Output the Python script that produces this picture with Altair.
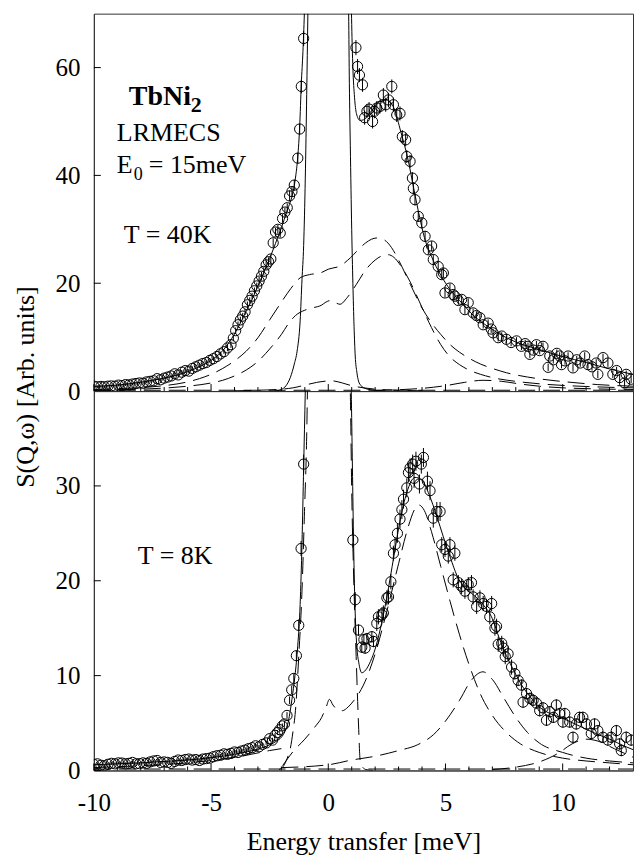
import altair as alt
import pandas as pd

FONT = "Liberation Serif"
XDOM = [-10, 13]

# ------------------------------------------------------------------ T = 40 K
E40 = [-10.0, -9.85, -9.7, -9.55, -9.4, -9.25, -9.1, -8.95, -8.8, -8.65,
       -8.5, -8.35, -8.2, -8.05, -7.9, -7.75, -7.6, -7.45, -7.3, -7.15,
       -7.0, -6.85, -6.7, -6.55, -6.4, -6.25, -6.1, -5.95, -5.8, -5.65,
       -5.5, -5.35, -5.2, -5.05, -4.9, -4.75, -4.6, -4.45, -4.3, -4.15,
       -4.05, -3.95, -3.85, -3.75, -3.65, -3.55, -3.45, -3.35, -3.25, -3.15,
       -3.05, -2.95, -2.85, -2.75, -2.65, -2.55, -2.45, -2.35, -2.25, -2.15,
       -2.05, -1.95, -1.85, -1.75, -1.65, -1.55, -1.45, -1.3, -1.22, -1.15,
       -1.05,
       1.18, 1.25, 1.33, 1.46, 1.55, 1.65, 1.74, 1.89, 1.97, 2.07,
       2.21, 2.35, 2.45, 2.57, 2.71, 2.78, 2.92, 3.06, 3.16, 3.30,
       3.35, 3.49, 3.59, 3.63, 3.70, 3.84, 3.99, 4.13, 4.27, 4.41,
       4.48, 4.69, 4.84, 4.91, 4.98, 5.19, 5.33, 5.40, 5.55, 5.69,
       5.83, 5.97, 6.18, 6.32, 6.47, 6.61, 6.82, 6.95, 7.03, 7.25,
       7.40, 7.60, 7.80, 8.03, 8.24, 8.40, 8.52, 8.60, 8.75, 8.88,
       9.02, 9.16, 9.38, 9.45, 9.60, 9.75, 9.87, 9.95, 10.10, 10.23,
       10.44, 10.60, 10.75, 10.94, 11.08, 11.25, 11.43, 11.50, 11.72, 11.93,
       12.14, 12.30, 12.43, 12.64, 12.71, 12.92]
S40 = [0.9, 0.8, 0.85, 0.8, 0.9, 0.95, 0.9, 1.1, 1.0, 1.2,
       1.15, 1.3, 1.4, 1.5, 1.45, 1.7, 1.8, 1.9, 2.3, 2.1,
       2.4, 2.6, 2.8, 3.2, 3.0, 3.5, 3.8, 3.7, 4.2, 4.5,
       4.8, 5.1, 5.3, 5.7, 6.0, 6.4, 6.9, 7.3, 8.0, 8.6,
       9.8, 11.2, 12.3, 13.2, 13.9, 14.7, 16.0, 16.8, 17.6, 18.6,
       19.5, 20.4, 21.3, 22.2, 23.4, 24.0, 24.5, 27.5, 29.5, 30.0,
       29.3, 32.0, 33.2, 34.0, 36.2, 37.0, 38.2, 43.2, 48.6, 56.5,
       65.4,
       63.7, 60.2, 58.6, 56.8, 50.7, 51.9, 52.3, 50.0, 51.9, 52.5,
       52.8, 54.9, 53.1, 54.0, 56.5, 53.1, 51.2, 51.5, 47.2, 46.6,
       43.5, 42.6, 39.5, 37.6, 35.5, 32.4, 31.2, 28.7, 26.2, 26.9,
       24.4, 23.1, 21.6, 21.9, 18.2, 19.1, 17.9, 17.6, 16.8, 17.0,
       15.1, 16.4, 14.5, 14.0, 13.6, 12.3, 12.6, 11.5, 10.8, 9.9,
       10.2, 9.6, 9.0, 9.3, 8.3, 8.8, 8.3, 6.8, 7.6, 8.6,
       7.5, 8.3, 4.4, 6.5, 5.8, 7.0, 6.5, 4.9, 5.6, 6.5,
       4.3, 5.8, 5.2, 6.5, 4.9, 4.5, 5.2, 3.1, 6.2, 5.2,
       3.1, 3.8, 2.5, 1.5, 3.1, 2.2]
ERR40 = [0.25] * 20 + [0.25, 0.25, 0.25, 0.4, 0.4, 0.4, 0.4, 0.4, 0.4, 0.4,
         0.4, 0.4, 0.4, 0.4, 0.4, 0.4, 0.4, 0.4, 0.6, 0.6,
         0.6, 0.6, 0.6, 0.6, 0.6, 0.6, 0.6, 0.6, 0.6, 0.6,
         0.6, 0.8, 0.8, 0.8, 0.8, 0.8, 0.8, 0.8, 0.8, 0.8,
         0.8, 0.8, 0.8, 0.8, 1.0, 1.0, 1.0, 1.0, 1.0, 1.3,
         1.4,
         1.4, 1.4, 1.3, 1.3, 1.3, 1.3, 1.3, 1.3, 1.3, 1.3,
         1.3, 1.3, 1.3, 1.3, 1.3, 1.3, 1.3, 1.3, 1.2, 1.2,
         1.2, 1.2, 1.1, 1.1, 1.1, 1.0, 1.0, 1.0, 0.9, 0.9,
         0.9, 0.9, 0.9, 0.9, 0.8, 0.8, 0.8, 0.8, 0.8, 0.8,
         0.8, 0.8, 0.8, 0.8, 0.7, 0.7, 0.7, 0.7, 0.7, 0.7] + [0.7] * 36

# total fit (solid), two branches around the elastic line
F40L_E = [-10, -9.5, -9, -8.5, -8, -7.5, -7, -6.5, -6, -5.5, -5, -4.5, -4.25, -4, -3.75,
          -3.5, -3.25, -3, -2.75, -2.5, -2.25, -2, -1.75, -1.5, -1.4, -1.3, -1.22, -1.15,
          -1.08, -1.02, -0.97]
F40L_S = [0.85, 0.95, 1.1, 1.35, 1.65, 2.0, 2.4, 2.9, 3.6, 4.5, 5.7, 7.5, 8.9, 10.6, 12.6,
          14.8, 17.0, 19.5, 22.0, 24.6, 27.4, 30.3, 33.5, 37.0, 39.5, 43.5, 49, 57,
          63, 70, 78]
F40R_E = [0.96, 1.0, 1.05, 1.12, 1.2, 1.35, 1.5, 1.7, 2.0, 2.3, 2.5, 2.8, 3.1, 3.4, 3.65,
          3.9, 4.1, 4.4, 4.8, 5.2, 5.6, 6.2, 6.8, 7.6, 8.0, 9.0, 10.0, 11.0, 12.0, 13.0]
F40R_S = [78, 68, 60, 54.5, 51.5, 50.2, 50.3, 51.2, 52.8, 54.0, 54.0, 52.5, 48.0, 43.0, 37.5,
          32.2, 28.5, 25.0, 21.5, 18.8, 16.8, 14.0, 12.0, 9.9, 9.1, 7.7, 6.4, 5.3, 4.1, 3.1]
# elastic line (solid)
EL40L_E = [-2.3, -2.0, -1.8, -1.62, -1.45, -1.33, -1.2, -1.12, -1.05, -0.98, -0.92, -0.87, -0.84]
EL40L_S = [0.0, 0.3, 1.0, 2.5, 5.0, 7.4, 13, 20.7, 27, 39.5, 55, 70, 80]
EL40R_E = [0.84, 0.87, 0.9, 0.94, 1.0, 1.05, 1.1, 1.15, 1.22, 1.29, 1.4, 1.57, 1.9, 2.3]
EL40R_S = [80, 70, 57, 45.6, 30, 20, 12, 6.5, 3.5, 1.85, 1.0, 0.5, 0.2, 0.05]
# dashed components
A40_E = [-10, -9, -8, -7, -6, -5.5, -5, -4.5, -4, -3.5, -3, -2.5, -2, -1.6, -1.2, -0.8, -0.34,
         0, 0.5, 0.94, 1.3, 1.6, 2.07, 2.4, 2.7, 3.0, 3.5, 4.0, 4.5, 4.8, 5.2, 5.6, 6.0, 6.5,
         7.0, 7.6, 8.5, 9.5, 10.4, 11.5, 13]
A40_S = [0.3, 0.45, 0.65, 1.0, 1.7, 2.3, 3.1, 4.2, 5.6, 7.4, 9.9, 13.2, 16.5, 19.0, 21.0, 21.6,
         21.9, 22.6, 23.2, 24.7, 26.3, 27.5, 28.4, 28.0, 26.6, 24.3, 19.8, 15.4, 12.1, 10.5,
         8.6, 7.2, 6.1, 5.0, 4.2, 3.4, 2.6, 2.0, 1.6, 1.2, 0.9]
B40_E = [-10, -9, -8, -7, -6, -5, -4.5, -4, -3.5, -3, -2.5, -2, -1.7, -1.4, -1.0, -0.6, -0.3,
         -0.1, 0.1, 0.3, 0.5, 0.8, 1.2, 1.6, 2.0, 2.3, 2.55, 2.8, 3.1, 3.5, 4.0, 4.4, 4.8, 5.2,
         5.6, 6.0, 6.5, 7.0, 8, 9, 10, 11, 12, 13]
B40_S = [0.15, 0.25, 0.35, 0.55, 0.9, 1.5, 2.0, 2.8, 3.9, 5.5, 7.8, 10.5, 12.5, 14.0, 15.0,
         15.5, 15.9, 16.5, 16.8, 16.4, 16.1, 17.3, 19.8, 22.5, 24.3, 25.1, 25.3, 24.8, 23.2,
         20.2, 15.5, 11.8, 8.6, 6.3, 4.9, 3.9, 3.1, 2.5, 1.8, 1.35, 1.05, 0.85, 0.7, 0.6]
C40_E = [-4, -3, -2, -1.5, -1.0, -0.5, 0.15, 0.6, 1.0, 1.5, 2.0, 3.0, 4.0]
C40_S = [0.05, 0.15, 0.35, 0.6, 1.1, 1.6, 1.9, 1.5, 1.0, 0.6, 0.35, 0.15, 0.05]
D40_E = [2, 3, 4, 5, 5.8, 6.6, 7.4, 8.2, 9, 10, 11, 12, 13]
D40_S = [0.1, 0.25, 0.5, 1.0, 1.6, 2.0, 1.8, 1.3, 0.9, 0.6, 0.45, 0.35, 0.3]
BASE_E = [-10, 13]
BASE_S = [0.15, 0.15]

# ------------------------------------------------------------------ T = 8 K
E8 = [-10.0, -9.85, -9.7, -9.55, -9.4, -9.25, -9.1, -8.95, -8.8, -8.65,
      -8.5, -8.35, -8.2, -8.05, -7.9, -7.75, -7.6, -7.45, -7.3, -7.15,
      -7.0, -6.85, -6.7, -6.55, -6.4, -6.25, -6.1, -5.95, -5.8, -5.65,
      -5.5, -5.35, -5.2, -5.05, -4.9, -4.75, -4.6, -4.45, -4.3, -4.15,
      -4.0, -3.85, -3.7, -3.55, -3.4, -3.25, -3.1, -2.95, -2.8, -2.65,
      -2.5, -2.38, -2.27, -2.17, -2.07, -1.96, -1.87, -1.76, -1.65, -1.56,
      -1.47, -1.36, -1.26, -1.16, -1.05,
      1.05, 1.15, 1.29, 1.43, 1.52, 1.57, 1.65, 1.86, 1.93, 2.07,
      2.14, 2.29, 2.35, 2.50, 2.57, 2.67, 2.78, 2.85, 2.95, 3.06,
      3.14, 3.21, 3.35, 3.42, 3.49, 3.60, 3.66, 3.74, 3.89, 3.97,
      4.06, 4.23, 4.34, 4.48, 4.63, 4.77, 4.84, 4.98, 5.12, 5.19,
      5.33, 5.40, 5.55, 5.69, 5.83, 5.97, 6.11, 6.18, 6.33, 6.47,
      6.61, 6.75, 6.89, 6.97, 7.11, 7.18, 7.25, 7.40, 7.47, 7.55,
      7.67, 7.82, 7.96, 8.10, 8.24, 8.31, 8.46, 8.60, 8.74, 8.88,
      9.02, 9.16, 9.31, 9.45, 9.60, 9.73, 9.87, 10.01, 10.09, 10.30,
      10.44, 10.58, 10.72, 10.86, 11.01, 11.22, 11.36, 11.50, 11.72, 11.93,
      12.07, 12.29, 12.43, 12.50, 12.71, 12.92]
S8 = [0.63, 0.7, 0.55, 0.5, 0.65, 0.75, 0.7, 0.8, 0.78, 0.7,
      0.75, 0.85, 0.7, 0.72, 0.8, 0.75, 0.9, 1.0, 1.05, 0.85,
      0.9, 0.85, 0.75, 0.95, 1.1, 1.05, 1.15, 1.2, 1.1, 1.15,
      1.05, 1.2, 1.25, 1.3, 1.45, 1.55, 1.6, 1.75, 1.7, 1.8,
      1.95, 1.9, 2.05, 2.15, 2.3, 2.4, 2.6, 2.5, 2.75, 2.9,
      3.35, 3.2, 3.7, 4.0, 4.3, 4.7, 4.9, 5.8, 7.4, 8.5,
      9.7, 12.1, 15.3, 23.4, 32.3,
      24.3, 18.0, 14.8, 13.0, 13.8, 12.9, 13.9, 14.1, 13.6, 15.5,
      16.2, 16.4, 16.6, 18.2, 18.3, 19.9, 22.9, 23.8, 25.0, 26.5,
      27.5, 28.6, 29.8, 31.4, 31.9, 32.3, 30.8, 32.6, 30.2, 32.3,
      33.0, 30.5, 29.5, 26.6, 27.3, 27.3, 23.8, 23.3, 22.6, 23.8,
      20.1, 22.9, 19.8, 19.4, 18.9, 19.6, 19.8, 18.3, 17.3, 18.2,
      17.6, 17.3, 16.2, 17.6, 15.0, 15.2, 13.3, 13.4, 12.9, 12.0,
      12.3, 10.9, 10.2, 9.5, 9.0, 7.2, 8.1, 7.6, 7.4, 7.1,
      6.3, 6.6, 5.3, 6.2, 5.6, 6.9, 6.0, 5.1, 6.0, 5.1,
      3.5, 4.9, 5.6, 5.6, 4.9, 3.9, 4.9, 4.2, 3.5, 3.2,
      3.5, 4.2, 2.8, 2.1, 3.5, 3.2]
ERR8 = [0.15] * 40 + [0.2] * 10 + [0.25, 0.25, 0.25, 0.25, 0.25, 0.25, 0.3, 0.35, 0.4, 0.45,
                                    0.5, 0.55, 0.6, 0.8, 1.0,
                                    0.8, 0.8, 0.6, 0.6, 0.6, 0.6, 0.6, 0.6, 0.6, 0.8,
                                    0.8, 0.8, 0.8, 0.8, 0.8, 0.8, 0.8, 0.8, 1.0, 1.0] + \
       [1.0] * 16 + [0.8] * 20 + [0.8] * 6 + [0.6] * 40

F8L_E = [-10, -9, -8, -7, -6, -5, -4.5, -4, -3.5, -3, -2.5, -2.2, -2.0, -1.85, -1.7, -1.55,
         -1.42, -1.3, -1.2, -1.12, -1.05, -0.98, -0.93]
F8L_S = [0.6, 0.7, 0.8, 0.95, 1.1, 1.35, 1.5, 1.7, 1.95, 2.25, 2.7, 3.1, 3.5, 4.1, 5.2, 7.5,
         10.0, 13.2, 17.5, 24.0, 32.0, 40.0, 46.0]
F8R_E = [0.92, 0.98, 1.03, 1.08, 1.15, 1.22, 1.3, 1.43, 1.6, 1.8, 2.0, 2.2, 2.5, 2.8, 3.06,
         3.35, 3.7, 4.0, 4.3, 4.63, 4.9, 5.2, 5.5, 5.8, 6.2, 6.6, 7.0, 7.3, 7.6, 7.9, 8.3,
         8.6, 9.0, 9.3, 10.0, 10.7, 11.4, 12.1, 12.6, 13.0]
F8R_S = [46, 40, 32, 24, 16.5, 13, 11.4, 10.3, 10.6, 11.5, 12.8, 14.7, 18.3, 22.6, 26.3,
         29.3, 30.9, 30.6, 29.1, 26.8, 24.7, 22.5, 20.5, 19.3, 18.5, 17.5, 16.0, 13.9, 12.1,
         10.6, 8.8, 7.8, 6.7, 6.2, 5.5, 4.7, 3.9, 3.2, 2.6, 2.2]
EL8L_E = [-2.1, -1.9, -1.75, -1.62, -1.5, -1.4, -1.26, -1.12, -1.02, -0.91, -0.86]
EL8L_S = [0.1, 0.5, 1.3, 2.3, 4.2, 6.3, 12, 19, 26.8, 36.7, 45]
EL8R_E = [0.88, 0.94, 1.0, 1.1, 1.19, 1.29, 1.36, 1.45, 1.6, 1.9]
EL8R_S = [45, 40, 29.6, 19, 12, 4.9, 1.06, 0.4, 0.1, 0.0]
QP8_E = [-1.95, -1.5, -1.0, -0.6, -0.28, -0.1, 0.05, 0.2, 0.4, 0.6, 0.85, 1.1, 1.5, 2.0, 2.5,
         3.0, 3.4, 3.7, 3.85, 4.1, 4.4, 4.8, 5.2, 5.6, 6.0, 6.5, 7.0, 7.6, 8.2, 9, 10, 11, 12, 13]
QP8_S = [0.5, 2.0, 3.3, 4.5, 5.6, 6.6, 7.5, 6.9, 6.4, 6.3, 6.7, 7.4, 9.0, 12.3, 16.8, 21.8,
         25.6, 27.6, 28.0, 27.4, 25.2, 21.5, 17.8, 14.3, 11.2, 8.0, 5.8, 4.0, 2.8, 1.9, 1.3,
         1.0, 0.8, 0.6]
L8_E = [-10, -8, -6, -4.5, -3.5, -3, -2.5, -2.0]
L8_S = [0.3, 0.5, 0.8, 1.2, 1.6, 1.85, 2.1, 2.3]
R8_E = [-2, 0, 1, 2, 3, 3.8, 4.5, 5.0, 5.6, 6.1, 6.6, 7.0, 7.5, 8.0, 8.5, 9.0, 10, 11, 12, 13]
R8_S = [0.3, 0.6, 1.1, 1.5, 2.1, 2.7, 3.8, 5.2, 7.4, 9.5, 10.4, 9.6, 7.6, 5.6, 4.0, 2.9, 1.9,
        1.3, 1.0, 0.8]
SM8_E = [7, 8, 9, 9.8, 10.4, 11.0, 11.5, 12.2, 13]
SM8_S = [0.1, 0.35, 0.9, 1.8, 2.8, 3.3, 3.1, 2.3, 1.4]

X_MAJOR = [-10, -5, 0, 5, 10]
X_MINOR = [-9, -8, -7, -6, -4, -3, -2, -1, 1, 2, 3, 4, 6, 7, 8, 9, 11, 12]
Y40_TICKS = [0, 20, 40, 60]
Y8_TICKS = [0, 10, 20, 30]

W = 540
H_TOP = 378
H_BOT = 380


def pts_df(E, S, err):
    n = min(len(E), len(S), len(err))
    return pd.DataFrame({"E": E[:n], "S": S[:n], "err": err[:n]})


def curve_df(curves):
    rows = []
    for name, E, S in curves:
        for e, s in zip(E, S):
            rows.append({"curve": name, "E": e, "S": s})
    return pd.DataFrame(rows)


def make_panel(pts, solid, dashed, ydom, yticks, height, bottom, texts):
    xaxis = alt.Axis(values=X_MAJOR, labels=bottom, ticks=False, tickSize=0, grid=False,
                     labelPadding=20, titlePadding=13, labelExpr="'' + datum.value",
                     labelFlush=False,
                     title="Energy transfer [meV]" if bottom else None)
    yaxis = alt.Axis(values=yticks, ticks=False, tickSize=0, grid=False, labelPadding=14,
                     labelFlush=False, title=None)
    xs = alt.Scale(domain=XDOM, nice=False, zero=False)
    ys = alt.Scale(domain=ydom, nice=False, zero=False)

    def X(f):
        return alt.X(f, type="quantitative", scale=xs, axis=xaxis)

    def Y(f):
        return alt.Y(f, type="quantitative", scale=ys, axis=yaxis)

    layers = []
    layers.append(alt.Chart(curve_df(dashed)).mark_line(
        color="black", strokeWidth=1, strokeDash=[17, 8], interpolate="monotone", clip=True
    ).encode(x=X("E"), y=Y("S"), detail="curve:N"))
    layers.append(alt.Chart(curve_df(solid)).mark_line(
        color="black", strokeWidth=1, interpolate="monotone", clip=True
    ).encode(x=X("E"), y=Y("S"), detail="curve:N"))
    layers.append(alt.Chart(pts).transform_calculate(
        lo="datum.S - datum.err", hi="datum.S + datum.err"
    ).mark_rule(color="black", strokeWidth=1, clip=True).encode(
        x=X("E"), y=Y("lo"), y2="hi:Q"))
    layers.append(alt.Chart(pts).mark_point(
        shape="circle", filled=False, size=105, color="black", strokeWidth=1, opacity=1, clip=True
    ).encode(x=X("E"), y=Y("S")))
    # inward ticks
    layers.append(alt.Chart(pd.DataFrame({"t": X_MAJOR})).mark_rule(
        color="black", strokeWidth=1).encode(
        x=X("t"), y=alt.value(height), y2=alt.value(height - 7)))
    layers.append(alt.Chart(pd.DataFrame({"t": X_MINOR})).mark_rule(
        color="black", strokeWidth=1).encode(
        x=X("t"), y=alt.value(height), y2=alt.value(height - 4)))
    layers.append(alt.Chart(pd.DataFrame({"t": yticks})).mark_rule(
        color="black", strokeWidth=1).encode(
        y=Y("t"), x=alt.value(0), x2=alt.value(7)))
    for (txt, px, py, size, weight, angle) in texts:
        kw = dict(align="left", baseline="alphabetic", font=FONT, fontSize=size,
                  fontWeight=weight, color="black")
        if angle:
            kw.update(angle=angle, align="center", baseline="middle")
        layers.append(alt.Chart(pd.DataFrame({"t": [txt]})).mark_text(**kw).encode(
            text="t:N", x=alt.value(px), y=alt.value(py)))
    return alt.layer(*layers).properties(width=W, height=height)


pts40 = pts_df(E40, S40, ERR40)
pts8 = pts_df(E8, S8, ERR8)

top = make_panel(
    pts40,
    solid=[("fitL", F40L_E, F40L_S), ("fitR", F40R_E, F40R_S),
           ("elL", EL40L_E, EL40L_S), ("elR", EL40R_E, EL40R_S)],
    dashed=[("A", A40_E, A40_S), ("B", B40_E, B40_S), ("C", C40_E, C40_S),
            ("D", D40_E, D40_S), ("base", BASE_E, BASE_S)],
    ydom=[0, 70], yticks=Y40_TICKS, height=H_TOP, bottom=False,
    texts=[("TbNi", 35, 91, 28, "bold", 0),
           ("2", 97, 98, 22, "bold", 0),
           ("LRMECS", 23, 128, 26, "normal", 0),
           ("E", 23, 160, 26, "normal", 0),
           ("0", 40, 167, 18, "normal", 0),
           ("= 15meV", 55, 160, 26, "normal", 0),
           ("T = 40K", 30, 230, 26, "normal", 0),
           ("S(Q,ω) [Arb. units]", -68, 374, 26, "normal", 270)])

bot = make_panel(
    pts8,
    solid=[("fitL", F8L_E, F8L_S), ("fitR", F8R_E, F8R_S)],
    dashed=[("elL", EL8L_E, EL8L_S), ("elR", EL8R_E, EL8R_S), ("QP", QP8_E, QP8_S),
            ("L", L8_E, L8_S), ("R", R8_E, R8_S), ("SM", SM8_E, SM8_S),
            ("base", BASE_E, BASE_S)],
    ydom=[0, 40], yticks=Y8_TICKS, height=H_BOT, bottom=True,
    texts=[("T = 8K", 44, 173, 26, "normal", 0)])

chart = alt.vconcat(top, bot, spacing=0).properties(
    bounds="flush",
    padding={"left": 12, "top": 12, "right": 1, "bottom": 3},
    background="white",
).configure_axis(
    labelFont=FONT, titleFont=FONT, labelFontSize=25, titleFontSize=26,
    titleFontWeight="normal", labelColor="black", titleColor="black",
    domainColor="#333333", domainWidth=1,
).configure_view(stroke="#333333", strokeWidth=1)

chart.save("out.html", embed_options={"renderer": "svg", "actions": False})
